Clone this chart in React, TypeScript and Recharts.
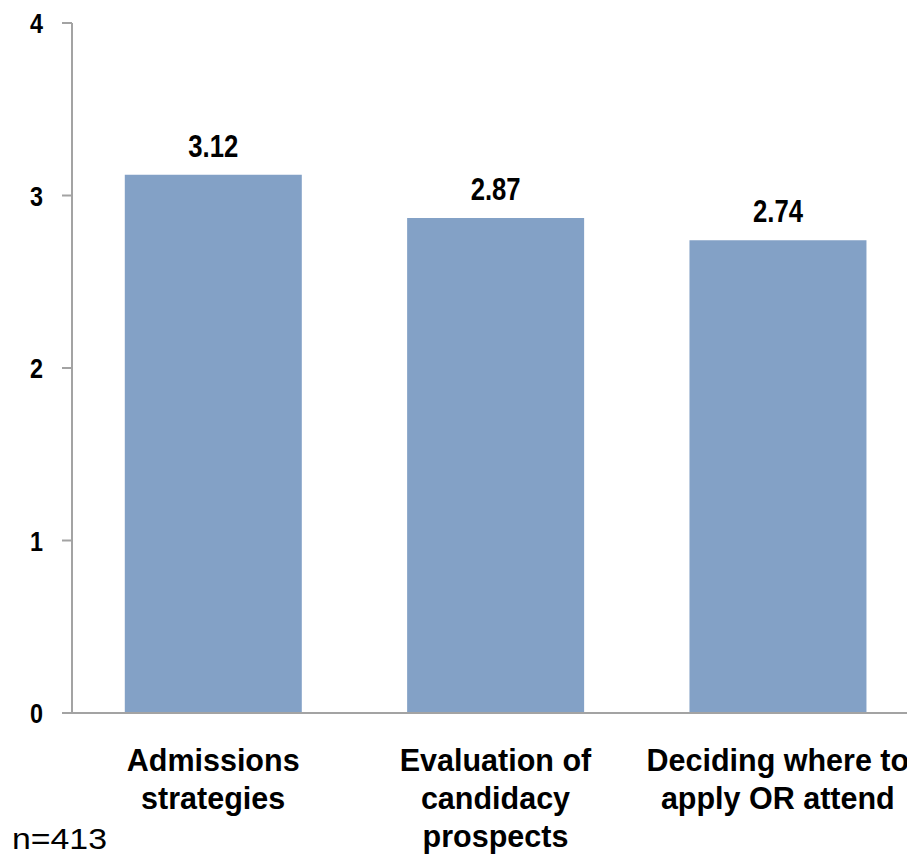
import { BarChart, Bar, XAxis, YAxis, LabelList } from 'recharts';

const categories = ['Admissions\nstrategies', 'Evaluation of\ncandidacy\nprospects', 'Deciding where to\napply OR attend'];
const scores = [3.12, 2.87, 2.74];
const yTicks = [0, 1, 2, 3, 4];
const sampleNote = 'n=413';

const data = categories.map((name, i) => ({ name, score: scores[i] }));

const AXIS = '#A3A3A3';
const BAR = '#83A1C6';
const FONT = "'Liberation Sans', Arial, sans-serif";

const CategoryTick = (props: any) => {
    const { x, y, payload } = props;
    const lines = String(payload.value).split('\n');
    return (
        <g>
            {lines.map((line, i) => (
                <text key={i} x={x} y={y + 58 + i * 38} textAnchor="middle" fontFamily={FONT} fontSize={30.5} fontWeight="bold" fill="#000">
                    {line}
                </text>
            ))}
        </g>
    );
};

// the original uses a condensed face, so squeeze Liberation Sans with textLength
const ScoreTick = (props: any) => {
    const { x, y, payload } = props;
    const label = String(payload.value);
    return (
        <text x={x} y={y + 10} textAnchor="end" fontFamily={FONT} fontSize={28} fontWeight="bold" fill="#000"
            textLength={13 * label.length} lengthAdjust="spacingAndGlyphs">
            {label}
        </text>
    );
};

const ValueLabel = (props: any) => {
    const { x, y, width, value } = props;
    return (
        <text x={Number(x) + Number(width) / 2} y={Number(y) - 18} textAnchor="middle" fontFamily={FONT} fontSize={31} fontWeight="bold" fill="#000"
            textLength={50} lengthAdjust="spacingAndGlyphs">
            {Number(value).toFixed(2)}
        </text>
    );
};

export default function App() {
    return (
        <div style={{ position: 'absolute', left: 0, top: 0, width: 907, height: 864, overflow: 'hidden', background: '#fff' }}>
            <BarChart width={960} height={864} data={data} margin={{ top: 23, right: 41, left: 0, bottom: 0 }} barCategoryGap="18.7%">
                <XAxis
                    dataKey="name"
                    height={151}
                    tickLine={false}
                    tickSize={0}
                    tickMargin={0}
                    interval={0}
                    axisLine={{ stroke: AXIS, strokeWidth: 2 }}
                    tick={<CategoryTick />}
                />
                <YAxis
                    width={72}
                    domain={[0, 4]}
                    ticks={yTicks}
                    tickSize={10}
                    tickMargin={19}
                    axisLine={{ stroke: AXIS, strokeWidth: 2 }}
                    tickLine={{ stroke: AXIS, strokeWidth: 2 }}
                    tick={<ScoreTick />}
                />
                <Bar dataKey="score" fill={BAR} isAnimationActive={false}>
                    <LabelList dataKey="score" content={<ValueLabel />} />
                </Bar>
            </BarChart>
            <svg width={140} height={60} style={{ position: 'absolute', left: 0, top: 810 }}>
                <text x={12} y={39} fontFamily={FONT} fontSize={29} fill="#000" textLength={95} lengthAdjust="spacingAndGlyphs">
                    {sampleNote}
                </text>
            </svg>
        </div>
    );
}
